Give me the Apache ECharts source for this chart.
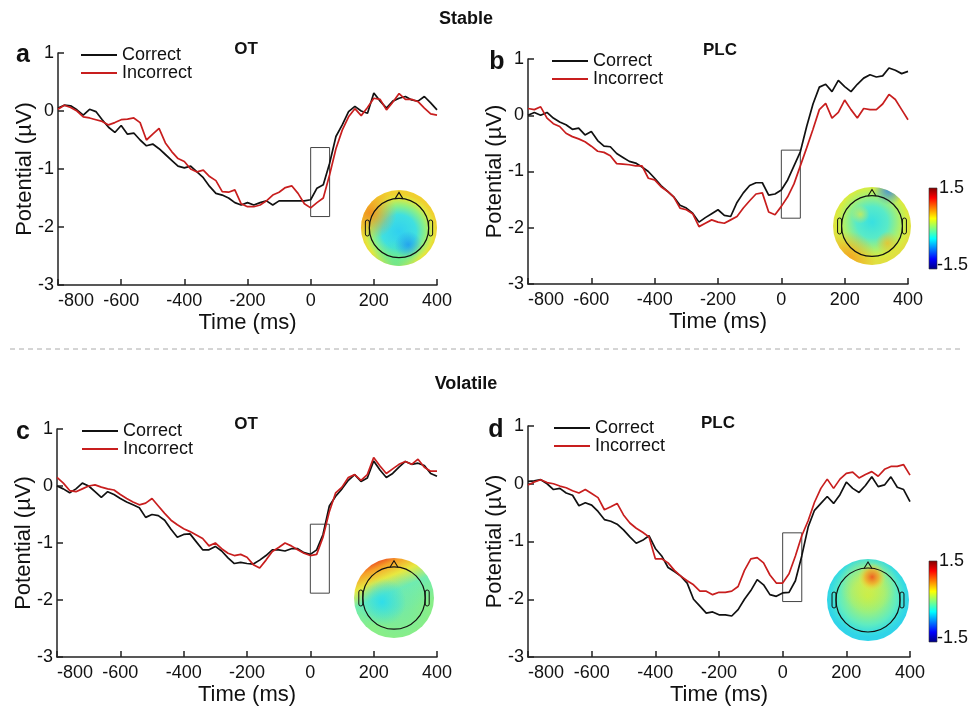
<!DOCTYPE html>
<html>
<head>
<meta charset="utf-8">
<title>ERP</title>
<script src="https://cdn.jsdelivr.net/npm/echarts@6/dist/echarts.min.js"></script>
<style>
  html, body { margin: 0; padding: 0; background: #fff; }
  #main { width: 973px; height: 710px; }
</style>
</head>
<body>
<div id="main"></div>
<script>
// time points (ms)
var times = [-800,-780,-760,-740,-720,-700,-680,-660,-640,-620,
  -600,-580,-560,-540,-520,-500,-480,-460,-440,-420,
  -400,-380,-360,-340,-320,-300,-280,-260,-240,-220,
  -200,-180,-160,-140,-120,-100,-80,-60,-40,-20,
  0,20,40,60,80,100,120,140,160,180,
  200,220,240,260,280,300,320,340,360,380,
  400];

// a - stable OT
var aCorrect = [0.05,0.10,0.09,0.02,-0.07,0.03,-0.01,-0.15,-0.28,-0.37,
  -0.25,-0.40,-0.38,-0.50,-0.60,-0.57,-0.65,-0.75,-0.85,-0.95,
  -0.98,-0.95,-1.05,-1.15,-1.30,-1.42,-1.45,-1.50,-1.58,-1.62,
  -1.58,-1.62,-1.58,-1.55,-1.62,-1.55,-1.55,-1.55,-1.55,-1.55,
  -1.53,-1.33,-1.27,-0.90,-0.44,-0.24,-0.01,0.08,0.00,-0.04,
  0.31,0.17,0.05,0.17,0.22,0.25,0.19,0.17,0.25,0.14,
  0.02];
var aIncorrect = [0.03,0.10,0.06,0.00,-0.10,-0.12,-0.15,-0.18,-0.24,-0.20,
  -0.15,-0.14,-0.12,-0.20,-0.50,-0.40,-0.30,-0.55,-0.70,-0.82,
  -0.87,-1.00,-1.05,-1.02,-1.13,-1.20,-1.39,-1.40,-1.36,-1.60,
  -1.65,-1.65,-1.62,-1.55,-1.45,-1.40,-1.32,-1.29,-1.42,-1.60,
  -1.67,-1.58,-1.50,-1.10,-0.65,-0.33,-0.10,0.04,-0.08,0.06,
  0.22,0.20,0.02,0.15,0.30,0.20,0.20,0.16,0.05,-0.05,
  -0.07];

// b - stable PLC
var bCorrect = [0.00,0.05,0.00,0.05,-0.05,-0.12,-0.17,-0.25,-0.23,-0.35,
  -0.29,-0.45,-0.55,-0.56,-0.68,-0.75,-0.82,-0.85,-0.92,-1.00,
  -1.12,-1.25,-1.35,-1.45,-1.60,-1.65,-1.74,-1.90,-1.82,-1.75,
  -1.68,-1.78,-1.80,-1.55,-1.38,-1.25,-1.20,-1.20,-1.42,-1.40,
  -1.33,-1.15,-0.90,-0.65,-0.20,0.20,0.50,0.55,0.42,0.62,
  0.51,0.42,0.55,0.66,0.72,0.68,0.70,0.84,0.80,0.74,
  0.78];
var bIncorrect = [0.12,0.10,0.15,-0.05,-0.15,-0.20,-0.32,-0.38,-0.42,-0.47,
  -0.55,-0.64,-0.66,-0.72,-0.86,-0.87,-0.88,-0.90,-0.90,-1.12,
  -1.15,-1.27,-1.35,-1.45,-1.65,-1.68,-1.75,-1.98,-1.92,-1.86,
  -1.90,-1.92,-1.86,-1.80,-1.65,-1.52,-1.40,-1.38,-1.72,-1.77,
  -1.62,-1.45,-1.22,-0.90,-0.58,-0.25,0.10,0.21,-0.05,0.05,
  0.27,0.10,-0.05,0.12,0.10,0.10,0.20,0.37,0.28,0.10,
  -0.08];

// c - volatile OT
var cCorrect = [0.00,-0.05,-0.12,-0.05,0.05,0.00,-0.10,-0.20,-0.10,-0.15,
  -0.22,-0.28,-0.33,-0.38,-0.55,-0.50,-0.52,-0.60,-0.76,-0.90,
  -0.85,-0.84,-0.98,-1.12,-1.12,-1.06,-1.14,-1.26,-1.36,-1.34,
  -1.36,-1.37,-1.30,-1.22,-1.12,-1.12,-1.14,-1.10,-1.10,-1.17,
  -1.20,-1.12,-0.85,-0.35,-0.18,-0.05,0.10,0.20,0.08,0.14,
  0.44,0.28,0.15,0.22,0.33,0.43,0.38,0.40,0.36,0.22,
  0.17];
var cIncorrect = [0.15,0.05,-0.08,-0.10,-0.05,0.00,0.02,-0.02,-0.05,-0.07,
  -0.15,-0.22,-0.28,-0.33,-0.30,-0.22,-0.35,-0.48,-0.60,-0.68,
  -0.75,-0.80,-0.86,-0.92,-1.05,-1.00,-1.10,-1.18,-1.22,-1.20,
  -1.25,-1.38,-1.44,-1.30,-1.15,-1.08,-1.00,-1.05,-1.12,-1.18,
  -1.22,-1.20,-0.90,-0.45,-0.12,-0.02,0.15,0.20,0.10,0.20,
  0.50,0.35,0.22,0.30,0.38,0.43,0.38,0.47,0.33,0.26,
  0.26];

// d - volatile PLC
var dCorrect = [0.04,0.05,0.07,0.00,-0.10,-0.08,-0.16,-0.20,-0.38,-0.33,
  -0.37,-0.48,-0.62,-0.65,-0.70,-0.80,-0.92,-1.03,-0.98,-0.90,
  -1.12,-1.25,-1.45,-1.52,-1.60,-1.72,-2.00,-2.12,-2.24,-2.22,
  -2.27,-2.27,-2.29,-2.18,-2.00,-1.85,-1.66,-1.75,-1.92,-1.95,
  -1.89,-1.88,-1.68,-1.25,-0.75,-0.46,-0.34,-0.22,-0.34,-0.19,
  0.03,-0.08,-0.15,-0.03,0.12,-0.05,-0.02,0.12,-0.06,-0.10,
  -0.31];
var dIncorrect = [-0.02,0.03,0.07,0.02,0.00,-0.04,-0.07,-0.12,-0.16,-0.10,
  -0.17,-0.24,-0.45,-0.40,-0.34,-0.54,-0.68,-0.77,-0.84,-0.92,
  -1.30,-1.30,-1.37,-1.50,-1.60,-1.68,-1.75,-1.86,-1.86,-1.92,
  -1.88,-1.88,-1.86,-1.78,-1.50,-1.30,-1.28,-1.37,-1.58,-1.72,
  -1.72,-1.56,-1.25,-0.90,-0.64,-0.32,-0.08,0.08,-0.08,0.08,
  0.18,0.20,0.10,0.16,0.21,0.13,0.25,0.30,0.30,0.33,
  0.15];

// analysis windows [t0, t1, top, bottom]
var boxA = [0, 60, -0.63, -1.82];
var boxB = [0, 60, -0.62, -1.83];
var boxC = [0, 60, -0.67, -1.88];
var boxD = [0, 60, -0.85, -2.04];

var FONT = 'Liberation Sans';
var BLACK = '#111111';
var RED = '#c81e1e';

var grids = [
  {left: 58, top: 53, width: 379, height: 232},
  {left: 528, top: 59, width: 380, height: 225},
  {left: 57, top: 429, width: 380, height: 228},
  {left: 528, top: 426, width: 382, height: 231}
];

function makeX(i) {
  return {
    type: 'value', gridIndex: i, min: -800, max: 400, interval: 200,
    name: 'Time (ms)', nameLocation: 'middle', nameGap: 27, nameMoveOverlap: false,
    nameTextStyle: {fontSize: 22, color: BLACK, fontFamily: FONT},
    axisLine: {show: true, onZero: false, lineStyle: {color: '#222', width: 1.5}},
    axisTick: {show: true, inside: true, length: 6, lineStyle: {color: '#222', width: 1.5}},
    axisLabel: {fontSize: 18, color: BLACK, fontFamily: FONT, margin: 7, alignMinLabel: 'left'},
    splitLine: {show: false}
  };
}
function makeY(i) {
  return {
    type: 'value', gridIndex: i, min: -3, max: 1, interval: 1,
    name: 'Potential (\u00b5V)', nameLocation: 'middle', nameGap: 22, nameRotate: 90,
    nameMoveOverlap: false,
    nameTextStyle: {fontSize: 22, color: BLACK, fontFamily: FONT},
    axisLine: {show: true, onZero: false, lineStyle: {color: '#222', width: 1.5}},
    axisTick: {show: true, inside: true, length: 6, lineStyle: {color: '#222', width: 1.5}},
    axisLabel: {fontSize: 18, color: BLACK, fontFamily: FONT, margin: 4},
    splitLine: {show: false}
  };
}

function lineSeries(name, i, vals, color, box) {
  var s = {
    name: name, type: 'line', xAxisIndex: i, yAxisIndex: i,
    symbol: 'none', color: color,
    lineStyle: {color: color, width: 1.7},
    itemStyle: {color: color},
    data: times.map(function (t, k) { return [t, vals[k]]; })
  };
  if (box) {
    s.markArea = {
      silent: true,
      itemStyle: {color: 'rgba(0,0,0,0)', borderColor: '#444', borderWidth: 1},
      data: [[{xAxis: box[0], yAxis: box[2]}, {xAxis: box[1], yAxis: box[3]}]]
    };
  }
  return s;
}

function makeLegend(left, top) {
  return {
    data: ['Correct', 'Incorrect'], orient: 'vertical', left: left, top: top,
    icon: 'rect', itemWidth: 36, itemHeight: 2, itemGap: 0,
    textStyle: {fontSize: 18, color: BLACK, fontFamily: FONT},
    selectedMode: false
  };
}

var RG = echarts.graphic.RadialGradient;
var LG = echarts.graphic.LinearGradient;

function blob(x, y, r, c0, c1) {
  return new RG(x, y, r, [{offset: 0, color: c0}, {offset: 1, color: c1}]);
}

// scalp map drawing
function topo(cx, cy, r, fills) {
  var els = [];
  fills.forEach(function (f) {
    els.push({type: 'circle', silent: true, shape: {cx: cx, cy: cy, r: r}, style: {fill: f}});
  });
  var hr = r * 0.78;
  els.push({type: 'circle', silent: true, shape: {cx: cx, cy: cy, r: hr},
    style: {fill: 'none', stroke: '#111', lineWidth: 1.2}});
  els.push({type: 'polyline', silent: true,
    shape: {points: [[cx - 4, cy - hr + 0.5], [cx, cy - hr - 6], [cx + 4, cy - hr + 0.5]]},
    style: {fill: 'none', stroke: '#111', lineWidth: 1.1}});
  els.push({type: 'rect', silent: true, shape: {x: cx - hr - 4, y: cy - 8, width: 4, height: 16, r: 2},
    style: {fill: 'none', stroke: '#111', lineWidth: 1}});
  els.push({type: 'rect', silent: true, shape: {x: cx + hr, y: cy - 8, width: 4, height: 16, r: 2},
    style: {fill: 'none', stroke: '#111', lineWidth: 1}});
  return els;
}

function colorbar(x, y, h) {
  var jet = new LG(0, 0, 0, 1, [
    {offset: 0, color: '#800000'}, {offset: 0.125, color: '#ff0000'},
    {offset: 0.375, color: '#ffff00'}, {offset: 0.5, color: '#80ff80'},
    {offset: 0.625, color: '#00ffff'}, {offset: 0.875, color: '#0000ff'},
    {offset: 1, color: '#000080'}
  ]);
  return [
    {type: 'rect', silent: true, shape: {x: x, y: y, width: 8, height: h},
      style: {fill: jet, stroke: '#333', lineWidth: 0.6}},
    {type: 'text', silent: true, x: x + 10, y: y, style: {text: '1.5', fill: BLACK,
      fontSize: 18, fontFamily: FONT, textAlign: 'left', textVerticalAlign: 'middle'}},
    {type: 'text', silent: true, x: x + 8, y: y + h - 4, style: {text: '-1.5', fill: BLACK,
      fontSize: 18, fontFamily: FONT, textAlign: 'left', textVerticalAlign: 'middle'}}
  ];
}

function label(x, y, text, size, bold) {
  return {type: 'text', silent: true, x: x, y: y, style: {text: text, fill: BLACK,
    fontSize: size, fontWeight: bold ? 'bold' : 'normal', fontFamily: FONT,
    textAlign: 'center', textVerticalAlign: 'middle'}};
}

var graphics = [
  label(466, 19, 'Stable', 18, true),
  label(466, 384, 'Volatile', 18, true),
  label(23, 55, 'a', 25, true),
  label(497, 62, 'b', 25, true),
  label(23, 432, 'c', 25, true),
  label(496, 430, 'd', 25, true),
  label(246, 49, 'OT', 17, true),
  label(720, 50, 'PLC', 17, true),
  label(246, 424, 'OT', 17, true),
  label(718, 423, 'PLC', 17, true),
  {type: 'line', silent: true, shape: {x1: 10, y1: 349, x2: 962, y2: 349},
    style: {stroke: '#aaaaaa', lineWidth: 1, lineDash: [5, 4]}}
];

graphics = graphics.concat(topo(399, 228, 38, [
  new RG(0.5, 0.55, 0.5, [
    {offset: 0, color: '#30d0f0'}, {offset: 0.45, color: '#40e0e0'},
    {offset: 0.7, color: '#90f080'}, {offset: 0.88, color: '#e0e840'}, {offset: 1, color: '#f0d030'}]),
  blob(0.12, 0.3, 0.35, 'rgba(240,140,30,0.95)', 'rgba(240,170,40,0)'),
  blob(0.45, 1.0, 0.35, 'rgba(80,230,160,0.8)', 'rgba(80,230,160,0)'),
  blob(0.62, 0.72, 0.18, 'rgba(30,150,240,0.8)', 'rgba(30,150,240,0)')
]));
graphics = graphics.concat(topo(872, 226, 39, [
  new RG(0.5, 0.45, 0.5, [
    {offset: 0, color: '#38e0e0'}, {offset: 0.4, color: '#58eac8'},
    {offset: 0.7, color: '#a8f070'}, {offset: 0.9, color: '#d8ec40'}, {offset: 1, color: '#e0e040'}]),
  blob(0.2, 0.92, 0.35, 'rgba(245,160,30,0.9)', 'rgba(245,160,30,0)'),
  blob(0.72, 0.03, 0.2, 'rgba(40,130,240,0.9)', 'rgba(40,130,240,0)'),
  blob(0.35, 0.35, 0.12, 'rgba(230,235,60,0.7)', 'rgba(230,235,60,0)'),
  blob(0.7, 0.72, 0.15, 'rgba(240,190,40,0.8)', 'rgba(240,190,40,0)')
]));
graphics = graphics.concat(topo(394, 598, 40, [
  new LG(0.3, 0, 0.6, 0.7, [
    {offset: 0, color: '#e83a20'}, {offset: 0.15, color: '#f6a028'},
    {offset: 0.35, color: '#e8e840'}, {offset: 0.6, color: '#70ecb0'}, {offset: 1, color: '#88ee88'}]),
  blob(0.55, 0.6, 0.4, 'rgba(100,230,190,0.6)', 'rgba(100,230,190,0)'),
  blob(0.35, 0.55, 0.3, 'rgba(40,220,240,0.9)', 'rgba(40,220,240,0)')
]));
graphics = graphics.concat(topo(868, 600, 41, [
  new RG(0.5, 0.45, 0.5, [
    {offset: 0, color: '#b8f050'}, {offset: 0.4, color: '#98f080'},
    {offset: 0.7, color: '#60ecc0'}, {offset: 0.9, color: '#38dce0'}, {offset: 1, color: '#30d4e8'}]),
  blob(0.5, 0.3, 0.35, 'rgba(230,235,60,0.7)', 'rgba(230,235,60,0)'),
  new RG(0.55, 0.22, 0.17, [
    {offset: 0, color: 'rgba(240,90,30,0.95)'}, {offset: 0.5, color: 'rgba(245,170,40,0.8)'},
    {offset: 1, color: 'rgba(240,230,60,0)'}])
]));
graphics = graphics.concat(colorbar(929, 188, 81));
graphics = graphics.concat(colorbar(929, 561, 81));

var option = {
  animation: false,
  backgroundColor: '#ffffff',
  textStyle: {fontFamily: FONT},
  grid: grids,
  xAxis: [makeX(0), makeX(1), makeX(2), makeX(3)],
  yAxis: [makeY(0), makeY(1), makeY(2), makeY(3)],
  legend: [makeLegend(76, 41), makeLegend(547, 47), makeLegend(77, 417), makeLegend(549, 414)],
  series: [
    lineSeries('Correct', 0, aCorrect, BLACK),
    lineSeries('Incorrect', 0, aIncorrect, RED, boxA),
    lineSeries('Correct', 1, bCorrect, BLACK),
    lineSeries('Incorrect', 1, bIncorrect, RED, boxB),
    lineSeries('Correct', 2, cCorrect, BLACK),
    lineSeries('Incorrect', 2, cIncorrect, RED, boxC),
    lineSeries('Correct', 3, dCorrect, BLACK),
    lineSeries('Incorrect', 3, dIncorrect, RED, boxD)
  ],
  graphic: graphics
};

var myChart = echarts.init(document.getElementById('main'));
myChart.setOption(option);
</script>
</body>
</html>
